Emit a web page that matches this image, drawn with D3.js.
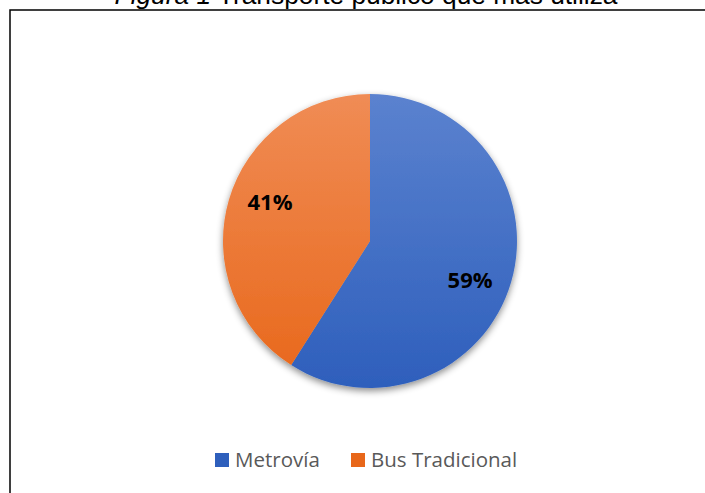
<!DOCTYPE html>
<html>
<head>
<meta charset="utf-8">
<script src="https://cdn.jsdelivr.net/npm/d3@7"></script>
<style>
  body { margin: 0; background: #fff; }
  svg { display: block; }
</style>
</head>
<body>
<div id="chart"></div>
<script>
// data
const categories = ["Metrovía", "Bus Tradicional"];
const shares = [59, 41];
const labels = ["59%", "41%"];

const width = 705, height = 493;
const cx = 370, cy = 241, radius = 147;

const svg = d3.select("#chart").append("svg")
    .attr("width", width)
    .attr("height", height);

const defs = svg.append("defs");

// gradient per slice, lighter at top (coords relative to pie centre)
const gradColors = [["#5b82cf", "#2e5fbc"], ["#f08c55", "#e8671a"]];
gradColors.forEach((c, i) => {
    const g = defs.append("linearGradient")
        .attr("id", "grad" + i)
        .attr("gradientUnits", "userSpaceOnUse")
        .attr("x1", 0).attr("y1", -radius)
        .attr("x2", 0).attr("y2", radius);
    g.append("stop").attr("offset", "0%").attr("stop-color", c[0]);
    g.append("stop").attr("offset", "100%").attr("stop-color", c[1]);
});

const shadow = defs.append("filter")
    .attr("id", "shadow")
    .attr("x", "-20%").attr("y", "-20%")
    .attr("width", "140%").attr("height", "140%");
shadow.append("feDropShadow")
    .attr("dx", 0).attr("dy", 3)
    .attr("stdDeviation", 3.5)
    .attr("flood-color", "#000")
    .attr("flood-opacity", 0.45);

// frame (only left and top visible)
svg.append("rect")
    .attr("x", 10).attr("y", 10)
    .attr("width", width + 20).attr("height", height + 20)
    .attr("fill", "none")
    .attr("stroke", "#000")
    .attr("stroke-width", 1.5);

// title, clipped at top of the page like the reference
const title = svg.append("text")
    .attr("x", 366).attr("y", 4)
    .attr("text-anchor", "middle")
    .attr("font-family", "Liberation Sans, Arial, sans-serif")
    .attr("font-size", 26.3)
    .attr("fill", "#000");
title.append("tspan").attr("font-style", "italic").text("Figura 1");
title.append("tspan").text(" Transporte público que más utiliza");

const data = categories.map((c, i) => ({ name: c, value: shares[i], label: labels[i], idx: i }));

const pie = d3.pie().sort(null).value(d => d.value);
const arc = d3.arc().innerRadius(0).outerRadius(radius);
const arcs = pie(data);

const g = svg.append("g").attr("transform", `translate(${cx},${cy})`);

g.append("g")
    .attr("filter", "url(#shadow)")
    .selectAll("path")
    .data(arcs)
    .enter()
    .append("path")
    .attr("d", arc)
    .attr("fill", d => `url(#grad${d.data.idx})`);

// percentage labels, nudged a little clockwise like Excel places them
const labelR = radius * 0.73;
const nudge = 5 * Math.PI / 180;
g.selectAll(".lbl")
    .data(arcs)
    .enter()
    .append("text")
    .attr("class", "lbl")
    .attr("transform", d => {
        const a = (d.startAngle + d.endAngle) / 2 + nudge;
        return `translate(${labelR * Math.sin(a)},${-labelR * Math.cos(a)})`;
    })
    .attr("text-anchor", "middle")
    .attr("dy", "0.36em")
    .attr("font-family", "Open Sans, sans-serif")
    .attr("font-weight", "bold")
    .attr("font-size", 22)
    .attr("fill", "#000")
    .text(d => d.data.label);

// legend
const legendX = [215, 351];
const legend = svg.append("g");
data.forEach((d, i) => {
    legend.append("rect")
        .attr("x", legendX[i]).attr("y", 453)
        .attr("width", 14).attr("height", 14)
        .attr("fill", gradColors[i][1]);
    legend.append("text")
        .attr("x", legendX[i] + 20).attr("y", 467)
        .attr("font-family", "Open Sans, sans-serif")
        .attr("font-size", 20.5)
        .attr("fill", "#595959")
        .text(d.name);
});
</script>
</body>
</html>
